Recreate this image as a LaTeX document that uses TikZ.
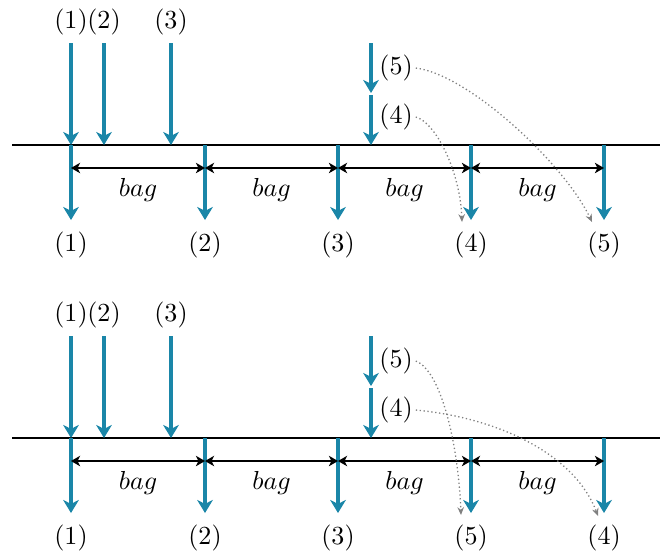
\documentclass[tikz,border=0pt]{standalone}
\usetikzlibrary{arrows.meta}
\definecolor{flowblue}{RGB}{26,134,168}
\begin{document}
\begin{tikzpicture}[x=0.384pt,y=-0.384pt,
  flow/.style={draw=flowblue,line width=1.2pt,-{Stealth[length=5pt,width=6pt,inset=1.5pt]}},
  axis/.style={draw=black,line width=0.8pt},
  gap/.style={draw=black,line width=0.8pt,{Stealth[length=3.5pt,width=4pt,inset=1pt]}-{Stealth[length=3.5pt,width=4pt,inset=1pt]}},
  move/.style={draw=gray,densely dotted,line width=0.5pt,-{Stealth[length=3pt,width=2.5pt]}},
  lbl/.style={inner sep=1pt},
]
\useasboundingbox (0,0) rectangle (660,555);
\foreach \p/\dy/\a/\b in {t/0/4/5,b/293/5/4}{
 \begin{scope}[shift={(0,\dy)}]
  \coordinate (\p-L) at (12,145);
  \coordinate (\p-R) at (660,145);
  \draw[axis] (\p-L) -- (\p-R);
  % output ticks
  \foreach \i/\x/\n in {1/71/1,2/205/2,3/338/3,4/471/\a,5/604/\b}{
    \coordinate (\p-tk\i) at (\x,145);
    \coordinate (\p-tip\i) at (\x,220);
    \coordinate (\p-gap\i) at (\x,168);
    \node[lbl] (\p-out\i) at (\x,245) {(\n)};
    \draw[flow] (\p-tk\i) -- (\p-tip\i);
  }
  % input arrows
  \foreach \i/\x in {1/71,2/104,3/171}{
    \node[lbl] (\p-in\i) at (\x,22) {(\i)};
    \coordinate (\p-hit\i) at (\x,145);
    \draw[flow,shorten <=2pt] (\p-in\i.south) -- (\p-hit\i);
  }
  % late arrivals (5) and (4)
  \coordinate (\p-s5) at (371,43);
  \coordinate (\p-e5) at (371,93);
  \coordinate (\p-s4) at (371,95);
  \coordinate (\p-e4) at (371,145);
  \draw[flow] (\p-s5) -- (\p-e5);
  \draw[flow] (\p-s4) -- (\p-e4);
  \node[lbl] (\p-l5) at (396,68) {(5)};
  \node[lbl] (\p-l4) at (396,117) {(4)};
  % bag spacings
  \draw[gap] (\p-gap1) -- (\p-gap2);
  \draw[gap] (\p-gap2) -- (\p-gap3);
  \draw[gap] (\p-gap3) -- (\p-gap4);
  \draw[gap] (\p-gap4) -- (\p-gap5);
  \node[lbl] (\p-bag1) at (138,190) {$bag$};
  \node[lbl] (\p-bag2) at (271.5,190) {$bag$};
  \node[lbl] (\p-bag3) at (404.5,190) {$bag$};
  \node[lbl] (\p-bag4) at (537.5,190) {$bag$};
 \end{scope}
}
% reordering moves
\coordinate (t-m5) at (592,222);
\coordinate (t-m4) at (462,222);
\draw[move] (t-l5.east) .. controls (470,75) and (565,165) .. (t-m5);
\draw[move] (t-l4.east) .. controls (435,122) and (460,170) .. (t-m4);
\coordinate (b-m5) at (461,515);
\coordinate (b-m4) at (598,516);
\draw[move] (b-l5.east) .. controls (440,370) and (458,440) .. (b-m5);
\draw[move] (b-l4.east) .. controls (500,418) and (575,455) .. (b-m4);
\end{tikzpicture}
\end{document}
